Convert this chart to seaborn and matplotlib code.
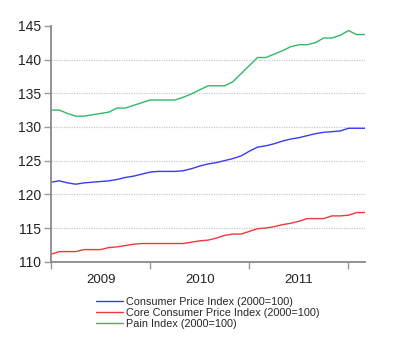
import numpy as np
import pandas as pd
import matplotlib
matplotlib.use("Agg")
import matplotlib.pyplot as plt
import seaborn as sns

# ---- data (monthly, Jan 2009 .. Mar 2012) ----
months = list(range(39))
year_labels = ["2009", "2010", "2011"]
series_names = [
    "Consumer Price Index (2000=100)",
    "Core Consumer Price Index (2000=100)",
    "Pain Index (2000=100)",
]
cpi = [121.8, 122.0, 121.7, 121.5, 121.7, 121.8, 121.9, 122.0, 122.2, 122.5,
       122.7, 123.0, 123.3, 123.4, 123.4, 123.4, 123.5, 123.8, 124.2, 124.5,
       124.7, 125.0, 125.3, 125.7, 126.4, 127.0, 127.2, 127.5, 127.9, 128.2,
       128.4, 128.7, 129.0, 129.2, 129.3, 129.4, 129.8, 129.8, 129.8]
core = [111.1, 111.5, 111.5, 111.5, 111.8, 111.8, 111.8, 112.1, 112.2, 112.4,
        112.6, 112.7, 112.7, 112.7, 112.7, 112.7, 112.7, 112.9, 113.1, 113.2,
        113.5, 113.9, 114.1, 114.1, 114.5, 114.9, 115.0, 115.2, 115.5, 115.7,
        116.0, 116.4, 116.4, 116.4, 116.8, 116.8, 116.9, 117.3, 117.3]
pain = [132.5, 132.5, 132.0, 131.6, 131.6, 131.8, 132.0, 132.2, 132.8, 132.8,
        133.2, 133.6, 134.0, 134.0, 134.0, 134.0, 134.4, 134.9, 135.5, 136.1,
        136.1, 136.1, 136.7, 137.9, 139.1, 140.3, 140.3, 140.8, 141.3, 141.9,
        142.2, 142.2, 142.5, 143.2, 143.2, 143.6, 144.3, 143.7, 143.7]
colors = ["#3b3bf0", "#ec3b3b", "#33b864"]

df = pd.concat([
    pd.DataFrame({"month": months, "value": vals, "series": name})
    for name, vals in zip(series_names, [cpi, core, pain])
])

sns.set_theme(style="white")
plt.rcParams["font.family"] = ["Liberation Sans", "DejaVu Sans"]

fig = plt.figure(figsize=(4.0, 3.64), dpi=100)
ax = fig.add_axes([0.1275, 0.281, 0.785, 0.648])

sns.lineplot(data=df, x="month", y="value", hue="series",
             palette=dict(zip(series_names, colors)), linewidth=1.0,
             ax=ax, legend=True)

ax.set_xlim(0, 38)
ax.set_ylim(110, 145)
ax.set_yticks([110, 115, 120, 125, 130, 135, 140, 145])
ax.set_xticks([0, 12, 24, 36])
ax.set_xticklabels([])
ax.set_xticks([6, 18, 30], minor=True)
ax.set_xticklabels(year_labels, minor=True)
ax.tick_params(axis="x", which="minor", bottom=False, length=0, pad=9,
               labelsize=9.5, colors="#222222")
ax.tick_params(axis="x", which="major", bottom=True, length=5, width=1,
               color="#999999", direction="out")
ax.tick_params(axis="y", left=True, length=5, width=1, color="#999999",
               direction="out", labelsize=10, labelcolor="#222222", pad=2)
ax.set_xlabel("")
ax.set_ylabel("")

for s in ["top", "right"]:
    ax.spines[s].set_visible(False)
for s in ["left", "bottom"]:
    ax.spines[s].set_color("#8a8a8a")
    ax.spines[s].set_linewidth(1.3)

ax.grid(axis="y", linestyle=(0, (1, 1)), color="#c8c8c8", linewidth=0.9)
ax.grid(axis="x", visible=False)
gl = ax.yaxis.get_gridlines()
gl[0].set_visible(False)
gl[-1].set_visible(False)

handles, labels = ax.get_legend_handles_labels()
ax.legend(handles, labels, loc="upper left", bbox_to_anchor=(0.24, 0.185),
          bbox_transform=fig.transFigure, frameon=False, fontsize=7.8,
          handlelength=2.5, handletextpad=0.3, labelspacing=0.1,
          borderpad=0, borderaxespad=0)

fig.savefig("out.png", dpi=100)
